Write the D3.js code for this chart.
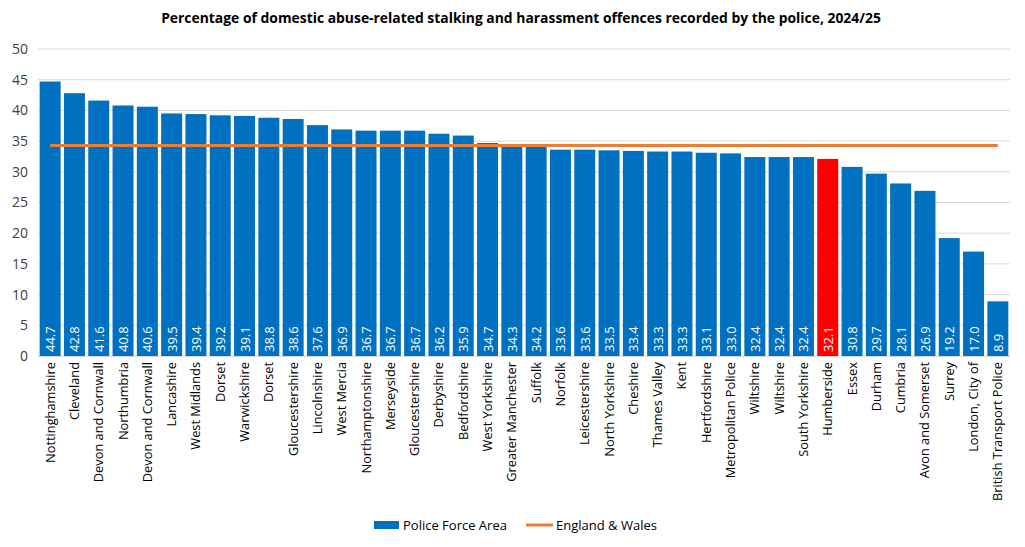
<!DOCTYPE html>
<html>
<head>
<meta charset="utf-8">
<script src="https://cdn.jsdelivr.net/npm/d3@7"></script>
<style>
  body { margin: 0; background: #fff; }
  text { font-family: "Open Sans", sans-serif; }
</style>
</head>
<body>
<div id="chart"></div>
<script>
// Police force areas, in the order shown
const areas = [
    "Nottinghamshire", "Cleveland", "Devon and Cornwall", "Northumbria", "Devon and Cornwall",
    "Lancashire", "West Midlands", "Dorset", "Warwickshire", "Dorset",
    "Gloucestershire", "Lincolnshire", "West Mercia", "Northamptonshire", "Merseyside",
    "Gloucestershire", "Derbyshire", "Bedfordshire", "West Yorkshire", "Greater Manchester",
    "Suffolk", "Norfolk", "Leicestershire", "North Yorkshire", "Cheshire",
    "Thames Valley", "Kent", "Hertfordshire", "Metropolitan Police", "Wiltshire",
    "Wiltshire", "South Yorkshire", "Humberside", "Essex", "Durham",
    "Cumbria", "Avon and Somerset", "Surrey", "London, City of", "British Transport Police"
];

const percentages = [
    44.7, 42.8, 41.6, 40.8, 40.6,
    39.5, 39.4, 39.2, 39.1, 38.8,
    38.6, 37.6, 36.9, 36.7, 36.7,
    36.7, 36.2, 35.9, 34.7, 34.3,
    34.2, 33.6, 33.6, 33.5, 33.4,
    33.3, 33.3, 33.1, 33.0, 32.4,
    32.4, 32.4, 32.1, 30.8, 29.7,
    28.1, 26.9, 19.2, 17.0, 8.9
];

const englandWales = 34.3;
const highlightArea = "Humberside";
const yTicks = [0, 5, 10, 15, 20, 25, 30, 35, 40, 45, 50];

const width = 1025, height = 547;
const margins = { top: 49, right: 15, bottom: 191, left: 38 };

const svg = d3.select("#chart").append("svg")
    .attr("width", width)
    .attr("height", height);

// Title
svg.append("text")
    .attr("x", 521)
    .attr("y", 23)
    .attr("text-anchor", "middle")
    .attr("font-size", "13.9px")
    .attr("font-weight", "700")
    .attr("fill", "#000")
    .text("Percentage of domestic abuse-related stalking and harassment offences recorded by the police, 2024/25");

const x = d3.scaleBand()
    .domain(d3.range(areas.length))
    .range([margins.left, width - margins.right])
    .paddingInner(0.136)
    .paddingOuter(0.068);

const y = d3.scaleLinear()
    .domain([0, 50])
    .range([height - margins.bottom, margins.top]);

// Gridlines
svg.append("g")
    .selectAll("line")
    .data(yTicks)
    .enter()
    .append("line")
    .attr("x1", margins.left)
    .attr("x2", width - margins.right)
    .attr("y1", d => y(d))
    .attr("y2", d => y(d))
    .attr("stroke", "#d9d9d9")
    .attr("stroke-width", 1);

// Y axis labels
const yAxis = svg.append("g")
    .attr("transform", `translate(${margins.left},0)`)
    .call(d3.axisLeft(y).tickValues(yTicks).tickSize(0).tickPadding(10));
yAxis.select(".domain").remove();
yAxis.selectAll("text")
    .attr("font-size", "14px")
    .attr("fill", "#404040")
    .style("font-family", "'Open Sans', sans-serif");

// Bars
svg.append("g")
    .selectAll("rect")
    .data(percentages)
    .enter()
    .append("rect")
    .attr("x", (d, i) => x(i))
    .attr("y", d => y(d))
    .attr("width", x.bandwidth())
    .attr("height", d => y(0) - y(d))
    .attr("fill", (d, i) => areas[i] === highlightArea ? "#ff0000" : "#0070c0");

// Value labels inside bars
svg.append("g")
    .selectAll("text")
    .data(percentages)
    .enter()
    .append("text")
    .attr("transform", (d, i) => `translate(${x(i) + x.bandwidth() / 2 + 5},${y(0) - 4}) rotate(-90)`)
    .attr("font-size", "13px")
    .attr("fill", "#fff")
    .text(d => d.toFixed(1));

// Category axis
const xAxis = svg.append("g")
    .attr("transform", `translate(0,${y(0)})`)
    .call(d3.axisBottom(x).tickFormat(i => areas[i]).tickSize(0).tickPadding(0));
xAxis.select(".domain").attr("stroke", "#d9d9d9");
xAxis.selectAll("text")
    .attr("transform", "rotate(-90)")
    .attr("text-anchor", "end")
    .attr("x", -6)
    .attr("y", 0)
    .attr("dy", "0.35em")
    .attr("font-size", "12.8px")
    .attr("fill", "#000")
    .style("font-family", "'Open Sans', sans-serif");

// England & Wales line
const first = 0, last = areas.length - 1;
svg.append("line")
    .attr("x1", x(first) + x.bandwidth() / 2)
    .attr("x2", x(last) + x.bandwidth() / 2)
    .attr("y1", y(englandWales))
    .attr("y2", y(englandWales))
    .attr("stroke", "#ed7d31")
    .attr("stroke-width", 3);

// Legend
const legend = svg.append("g").attr("transform", "translate(374,525)");
legend.append("rect")
    .attr("x", 0).attr("y", -4)
    .attr("width", 25).attr("height", 8)
    .attr("fill", "#0070c0");
legend.append("text")
    .attr("x", 29).attr("y", 0).attr("dy", "0.35em")
    .attr("font-size", "13px").attr("fill", "#000")
    .text("Police Force Area");
legend.append("line")
    .attr("x1", 152).attr("x2", 179)
    .attr("y1", 0).attr("y2", 0)
    .attr("stroke", "#ed7d31").attr("stroke-width", 3);
legend.append("text")
    .attr("x", 182).attr("y", 0).attr("dy", "0.35em")
    .attr("font-size", "13px").attr("fill", "#000")
    .text("England & Wales");
</script>
</body>
</html>
